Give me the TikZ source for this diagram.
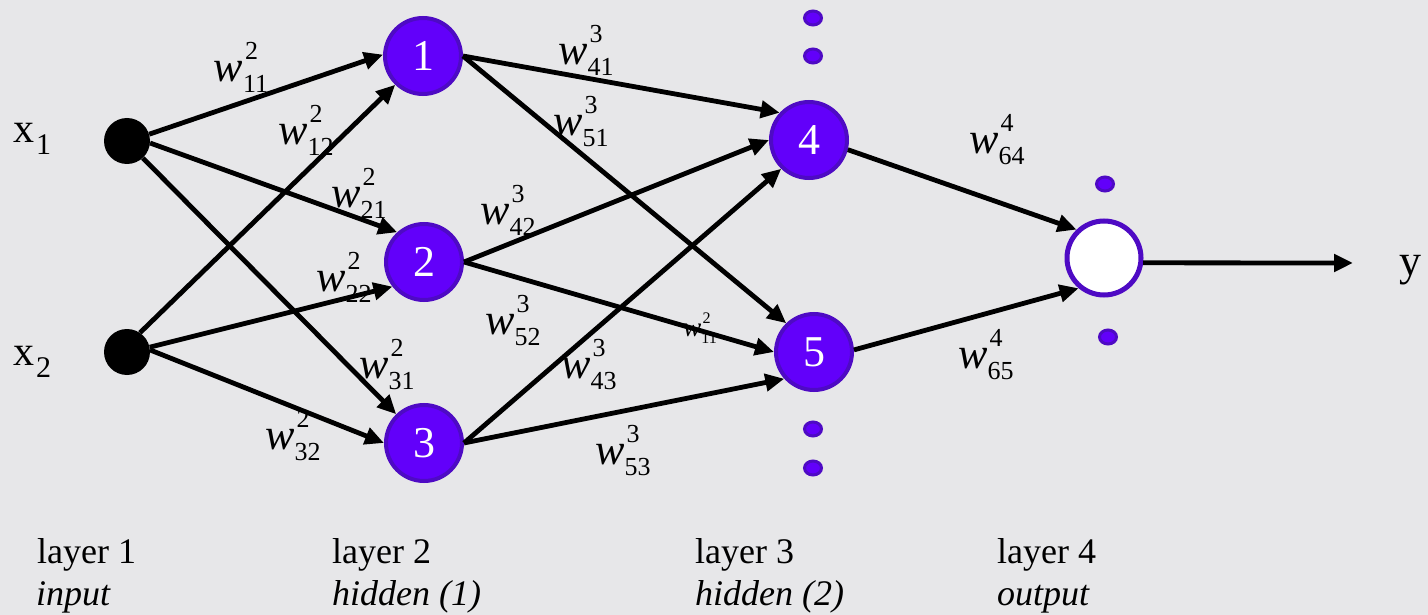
\documentclass[tikz,border=0pt]{standalone}
\usepackage{fontspec}
\setmainfont{Liberation Serif}
\usetikzlibrary{arrows.meta,shapes.geometric}
\definecolor{bg}{RGB}{231,231,233}
\definecolor{vfill}{RGB}{98,0,250}
\definecolor{vline}{RGB}{78,10,196}
\newcommand\wlabtext[2]{{\fontsize{44}{44}\selectfont\itshape w}{\fontsize{26}{26}\selectfont\rlap{\raisebox{22pt}{\kern2pt #1}}\raisebox{-11pt}{#2}}}
\newcommand\xlabtext[1]{{\fontsize{42}{42}\selectfont x}\kern2pt\raisebox{-12pt}{\fontsize{30}{30}\selectfont #1}}
\begin{document}
\begin{tikzpicture}[x=1pt,y=-1pt,
  neuron/.style={circle,fill=vfill,draw=vline,line width=4pt,minimum size=76pt,inner sep=0pt,text=white,font=\fontsize{44}{44}\selectfont},
  inp/.style={circle,fill=black,minimum size=46pt,inner sep=0pt},
  outn/.style={circle,fill=white,draw=vline,line width=5pt,minimum size=74pt,inner sep=0pt},
  dotn/.style={ellipse,fill=vfill,draw=vline,line width=3pt,minimum width=17pt,minimum height=14pt,inner sep=0pt},
  conn/.style={line width=4.8pt,-{Triangle[length=19pt,width=17pt]}},
  wlab/.style={inner sep=0pt,anchor=center},
  txt/.style={inner sep=0pt,anchor=base west},
  layerlab/.style={inner sep=0pt,anchor=base west,font=\fontsize{36}{36}\selectfont},
  layersub/.style={layerlab,font=\fontsize{36}{36}\selectfont\itshape}
]
\fill[bg] (0,0) rectangle (1428,615);
\useasboundingbox (0,0) rectangle (1428,615);

% nodes
\node[inp] (x1) at (127,141) {};
\node[inp] (x2) at (127,352) {};
\node[neuron] (n1) at (423,56) {1};
\node[neuron] (n2) at (424,262) {2};
\node[neuron] (n3) at (424,443) {3};
\node[neuron] (n4) at (809,140) {4};
\node[neuron] (n5) at (814,352) {5};
\node[outn] (out) at (1104,258) {};
\coordinate (yend) at (1353,263);

% dots
\node[dotn] (d1) at (813,18) {};
\node[dotn] (d2) at (813,56) {};
\node[dotn] (d3) at (813,429) {};
\node[dotn] (d4) at (813,468) {};
\node[dotn] (d5) at (1105,184) {};
\node[dotn] (d6) at (1108,337) {};

% texts
\node[txt] (lx1) at (13,143) {\xlabtext{1}};
\node[txt] (lx2) at (13,365) {\xlabtext{2}};
\node[txt,font=\fontsize{44}{44}\selectfont] (ly) at (1399,275) {y};

\node[wlab] (w211) at (241,67) {\wlabtext{2}{11}};
\node[wlab] (w212) at (306,130) {\wlabtext{2}{12}};
\node[wlab] (w221) at (359,193) {\wlabtext{2}{21}};
\node[wlab] (w222) at (344,277) {\wlabtext{2}{22}};
\node[wlab] (w231) at (387,365) {\wlabtext{2}{31}};
\node[wlab] (w232) at (293,436) {\wlabtext{2}{32}};
\node[wlab] (w341) at (586,50) {\wlabtext{3}{41}};
\node[wlab] (w351) at (581,122) {\wlabtext{3}{51}};
\node[wlab] (w342) at (508,210) {\wlabtext{3}{42}};
\node[wlab] (w352) at (513,321) {\wlabtext{3}{52}};
\node[wlab] (w343) at (589,365) {\wlabtext{3}{43}};
\node[wlab] (w353) at (623,451) {\wlabtext{3}{53}};
\node[wlab] (w464) at (997,140) {\wlabtext{4}{64}};
\node[wlab] (w465) at (986,355) {\wlabtext{4}{65}};
\node[wlab] (wsmall) at (700,328) {\scalebox{0.62}{\wlabtext{2}{11}}};

\node[layerlab] (l1a) at (37,563) {layer 1};
\node[layersub] (l1b) at (36,605) {input};
\node[layerlab] (l2a) at (332,563) {layer 2};
\node[layersub] (l2b) at (332,605) {hidden (1)};
\node[layerlab] (l3a) at (695,563) {layer 3};
\node[layersub] (l3b) at (695,605) {hidden (2)};
\node[layerlab] (l4a) at (997,563) {layer 4};
\node[layersub] (l4b) at (997,605) {output};

% connectors
\draw[conn] (x1.17) -- (n1.178);
\draw[conn] (x2.56) -- (n1.226);
\draw[conn] (x1.-5) -- (n2.132);
\draw[conn] (x1.-47) -- (n3.134);
\draw[conn] (x2.12) -- (n2.218);
\draw[conn] (x2.5) -- (n3.180);

\draw[conn] (n1.east) -- (n4.137);
\draw[conn] (n1.east) -- (n5.134);
\draw[conn] (n2.east) -- (n4.180);
\draw[conn] (n2.east) -- (n5.180);
\draw[conn] (n3.east) -- (n4.226);
\draw[conn] (n3.east) -- (n5.222);

\draw[conn] (n4.-14) -- (out.134);
\draw[conn] (n5.3) -- (out.230);
\draw[conn] (out.-7) -- (yend);
\end{tikzpicture}
\end{document}
